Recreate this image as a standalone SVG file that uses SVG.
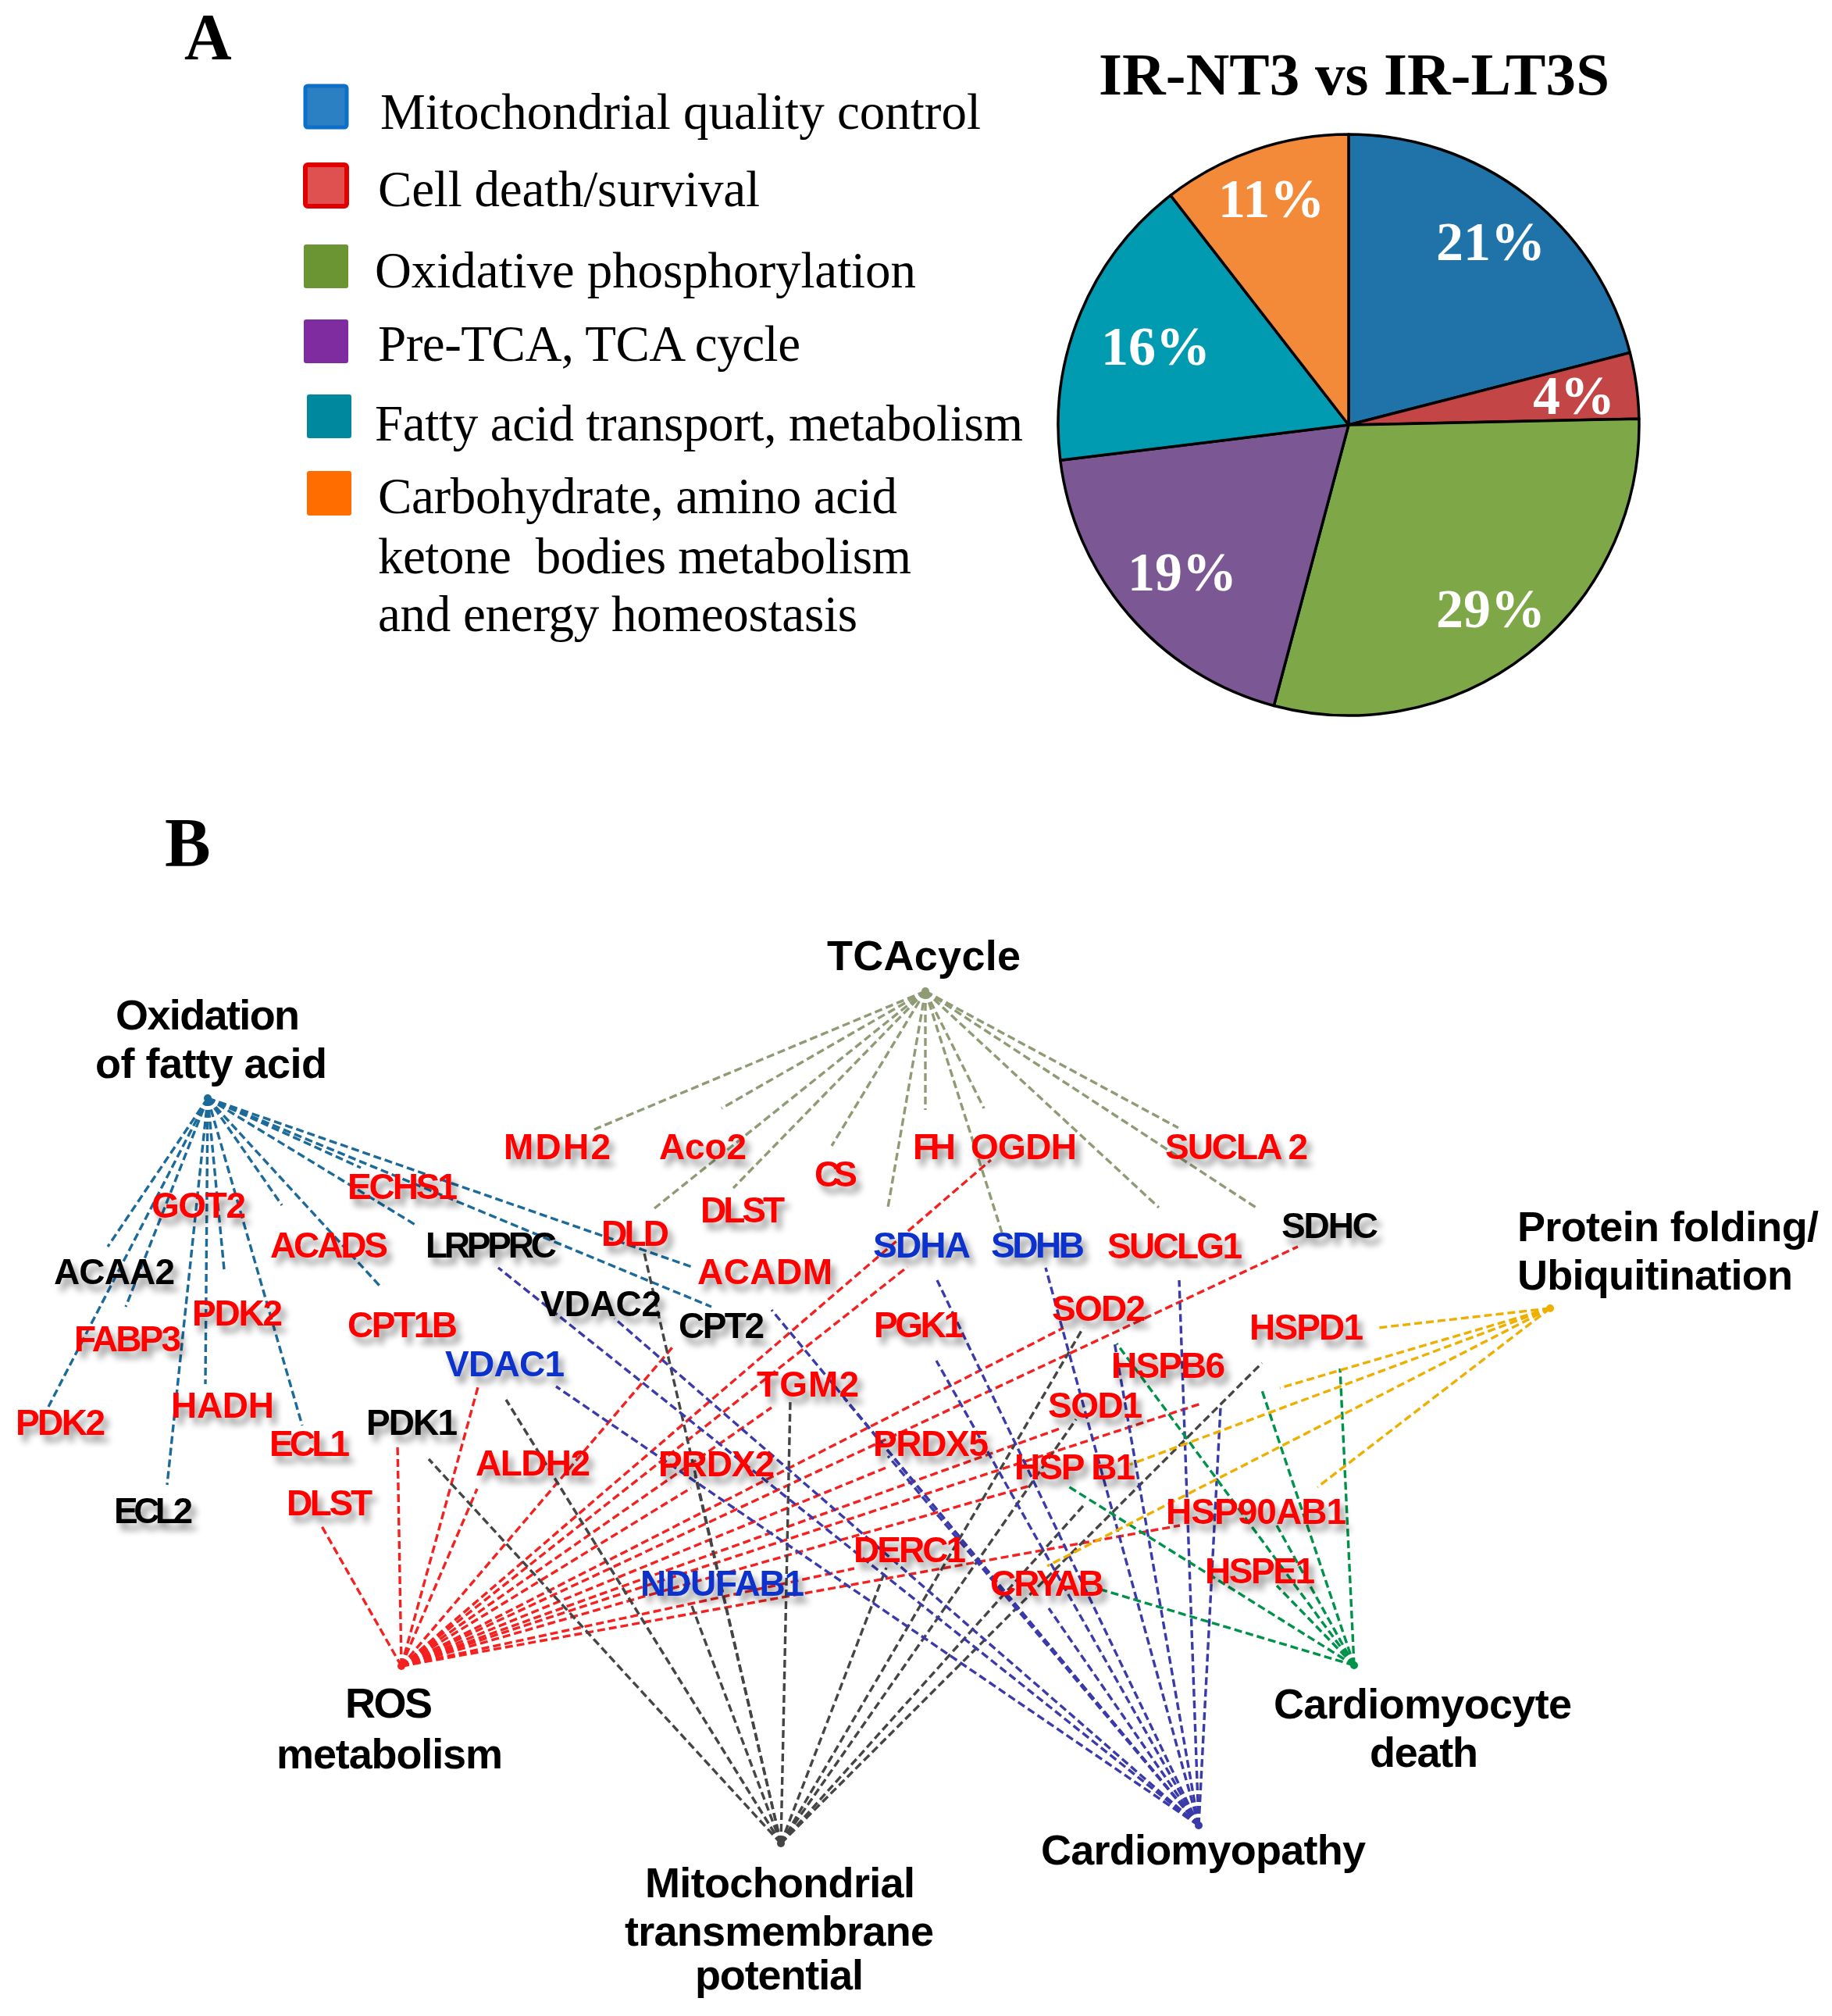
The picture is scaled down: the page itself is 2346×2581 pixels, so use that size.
<svg xmlns="http://www.w3.org/2000/svg" width="2346" height="2581" viewBox="0 0 2346 2581">
<defs>
<style>
.panel{font-family:"Liberation Serif","Times New Roman",serif;font-weight:bold;font-size:88px;fill:#000}
.leg{font-family:"Liberation Serif","Times New Roman",serif;font-size:65px;fill:#000}
.title{font-family:"Liberation Serif","Times New Roman",serif;font-weight:bold;font-size:77px;fill:#000}
.pct{font-family:"Liberation Serif","Times New Roman",serif;font-weight:bold;font-size:70px;fill:#fff}
.slice{stroke:#000;stroke-width:3.5;stroke-linejoin:round}
.cat{font-family:"Liberation Sans",Arial,sans-serif;font-weight:bold;font-size:54px;fill:#000}
.g{font-family:"Liberation Sans",Arial,sans-serif;font-weight:bold;font-size:46px;filter:url(#sh)}
.r{fill:#ff0000}.b{fill:#0a32cc}.k{fill:#000}
.e{fill:none;stroke-width:3.4;stroke-dasharray:10 5}
.fa{stroke:#1c6a9a}.tca{stroke:#8f9b74}.ros{stroke:#f52020}.mito{stroke:#454545}.cmp{stroke:#3a3aaa}.cd{stroke:#00924a}.pf{stroke:#eeb000}
</style>
<filter id="sh" x="-10%" y="-30%" width="130%" height="190%">
<feGaussianBlur in="SourceAlpha" stdDeviation="4"/>
<feOffset dx="6" dy="9"/>
<feComponentTransfer><feFuncA type="linear" slope="0.4"/></feComponentTransfer>
<feMerge><feMergeNode/><feMergeNode in="SourceGraphic"/></feMerge>
</filter>
</defs>
<rect width="2346" height="2581" fill="#fff"/>

<!-- Panel A -->
<text class="panel" x="236" y="76" style="font-size:84px">A</text>
<g id="legend">
<g id="leg-mqc"><rect x="391" y="110" width="53" height="53" rx="3" fill="#2b80c4" stroke="#0c6fc8" stroke-width="5"/><text class="leg" x="487" y="165" textLength="769">Mitochondrial quality control</text></g>
<g id="leg-cds"><rect x="391" y="211" width="53" height="53" rx="3" fill="#df5050" stroke="#e00000" stroke-width="6"/><text class="leg" x="484" y="264" textLength="489">Cell death/survival</text></g>
<g id="leg-ox"><rect x="389" y="313" width="57" height="56" rx="3" fill="#6b9532"/><text class="leg" x="480" y="368" textLength="693">Oxidative phosphorylation</text></g>
<g id="leg-tca"><rect x="389" y="409" width="57" height="56" rx="3" fill="#7f2ca0"/><text class="leg" x="484" y="462" textLength="541">Pre-TCA,  TCA cycle</text></g>
<g id="leg-fa"><rect x="393" y="505" width="57" height="56" rx="3" fill="#00889f"/><text class="leg" x="480" y="564" textLength="830">Fatty acid transport, metabolism</text></g>
<g id="leg-carb"><rect x="393" y="603" width="57" height="57" rx="3" fill="#ff6d00"/>
<text class="leg" x="484" y="657" textLength="665">Carbohydrate, amino acid</text>
<text class="leg" x="484" y="734" textLength="683" xml:space="preserve">ketone  bodies metabolism</text>
<text class="leg" x="484" y="808" textLength="614">and energy homeostasis</text></g>
</g>

<g id="pie">
<text class="title" x="1407" y="121" textLength="654">IR-NT3 vs IR-LT3S</text>
<path id="s-blue" class="slice" fill="#1f73a9" d="M1727,544 L1727,172 A372,372 0 0 1 2087.3,451.5 Z"/>
<path id="s-red" class="slice" fill="#c34545" d="M1727,544 L2087.3,451.5 A372,372 0 0 1 2098.9,536.2 Z"/>
<path id="s-green" class="slice" fill="#7ea748" d="M1727,544 L2098.9,536.2 A372,372 0 0 1 1631.3,903.5 Z"/>
<path id="s-purple" class="slice" fill="#7b5893" d="M1727,544 L1631.3,903.5 A372,372 0 0 1 1357.8,589.3 Z"/>
<path id="s-teal" class="slice" fill="#009bb0" d="M1727,544 L1357.8,589.3 A372,372 0 0 1 1499,250.1 Z"/>
<path id="s-orange" class="slice" fill="#f28a3a" d="M1727,544 L1499,250.1 A372,372 0 0 1 1727,172 Z"/>
<text class="pct" x="1839" y="333">21%</text>
<text class="pct" x="1963" y="530">4%</text>
<text class="pct" x="1839" y="803">29%</text>
<text class="pct" x="1444" y="756">19%</text>
<text class="pct" x="1410" y="467">16%</text>
<text class="pct" x="1560" y="278">11%</text>
</g>

<!-- Panel B -->
<text class="panel" x="211" y="1108">B</text>

<g id="connectors">
<g id="e-fa">
<path class="e fa" d="M266,1406L138,1596"/>
<path class="e fa" d="M266,1406L62,1801"/>
<path class="e fa" d="M266,1406L161,1673"/>
<path class="e fa" d="M266,1406L214,1901"/>
<path class="e fa" d="M266,1406L263,1772"/>
<path class="e fa" d="M266,1406L287,1625"/>
<path class="e fa" d="M266,1406L387,1825"/>
<path class="e fa" d="M266,1406L361,1543"/>
<path class="e fa" d="M266,1406L487,1647"/>
<path class="e fa" d="M266,1406L462,1495"/>
<path class="e fa" d="M266,1406L535,1570"/>
<path class="e fa" d="M266,1406L886,1622"/>
<path class="e fa" d="M266,1406L911,1673"/>
<circle cx="266" cy="1406" r="5" fill="#1c6a9a"/>
</g>
<g id="e-tca">
<path class="e tca" d="M1185,1269L761,1446"/>
<path class="e tca" d="M1185,1269L924,1419"/>
<path class="e tca" d="M1185,1269L838,1547"/>
<path class="e tca" d="M1185,1269L939,1521"/>
<path class="e tca" d="M1185,1269L1065,1467"/>
<path class="e tca" d="M1185,1269L1137,1546"/>
<path class="e tca" d="M1185,1269L1185,1421"/>
<path class="e tca" d="M1185,1269L1260,1419"/>
<path class="e tca" d="M1185,1269L1283,1578"/>
<path class="e tca" d="M1185,1269L1484,1546"/>
<path class="e tca" d="M1185,1269L1509,1444"/>
<path class="e tca" d="M1185,1269L1610,1547"/>
<circle cx="1185" cy="1269" r="5" fill="#8f9b74"/>
</g>
<g id="e-ros">
<path class="e ros" d="M514,2133L412,1954"/>
<path class="e ros" d="M514,2133L509,1848"/>
<path class="e ros" d="M514,2133L612,1776"/>
<path class="e ros" d="M514,2133L611,1906"/>
<path class="e ros" d="M514,2133L861,1725"/>
<path class="e ros" d="M514,2133L988,1802"/>
<path class="e ros" d="M514,2133L885,1905"/>
<path class="e ros" d="M514,2133L1269,1485"/>
<path class="e ros" d="M514,2133L1162,1622"/>
<path class="e ros" d="M514,2133L1137,1878"/>
<path class="e ros" d="M514,2133L1662,1596"/>
<path class="e ros" d="M514,2133L1362,1700"/>
<path class="e ros" d="M514,2133L1538,1797"/>
<path class="e ros" d="M514,2133L1360,1828"/>
<path class="e ros" d="M514,2133L1316,1903"/>
<path class="e ros" d="M514,2133L1511,1953"/>
<path class="e ros" d="M514,2133L1094,2008"/>
<circle cx="514" cy="2133" r="5" fill="#f52020"/>
</g>
<g id="e-mito">
<path class="e mito" d="M1000,2360L549,1868"/>
<path class="e mito" d="M1000,2360L648,1792"/>
<path class="e mito" d="M1000,2360L824,1600"/>
<path class="e mito" d="M1000,2360L890,1888"/>
<path class="e mito" d="M1000,2360L886,2056"/>
<path class="e mito" d="M1000,2360L1012,1793"/>
<path class="e mito" d="M1000,2360L1135,2007"/>
<path class="e mito" d="M1000,2360L1387,1700"/>
<path class="e mito" d="M1000,2360L1378,1817"/>
<path class="e mito" d="M1000,2360L1387,1928"/>
<path class="e mito" d="M1000,2360L1616,1745"/>
<circle cx="1000" cy="2360" r="5" fill="#454545"/>
</g>
<g id="e-cmp">
<path class="e cmp" d="M1535,2337L638,1623"/>
<path class="e cmp" d="M1535,2337L787,1688"/>
<path class="e cmp" d="M1535,2337L712,1775"/>
<path class="e cmp" d="M1535,2337L988,1677"/>
<path class="e cmp" d="M1535,2337L1200,1639"/>
<path class="e cmp" d="M1535,2337L1199,1742"/>
<path class="e cmp" d="M1535,2337L1081,1790"/>
<path class="e cmp" d="M1535,2337L1137,1864"/>
<path class="e cmp" d="M1535,2337L1339,1623"/>
<path class="e cmp" d="M1535,2337L1427,1718"/>
<path class="e cmp" d="M1535,2337L1510,1639"/>
<path class="e cmp" d="M1535,2337L1563,1802"/>
<path class="e cmp" d="M1535,2337L1343,2059"/>
<circle cx="1535" cy="2337" r="5" fill="#3a3aaa"/>
</g>
<g id="e-cd">
<path class="e cd" d="M1734,2132L1430,1720"/>
<path class="e cd" d="M1734,2132L1368,1903"/>
<path class="e cd" d="M1734,2132L1403,2033"/>
<path class="e cd" d="M1734,2132L1615,1777"/>
<path class="e cd" d="M1734,2132L1716,1752"/>
<path class="e cd" d="M1734,2132L1635,1953"/>
<path class="e cd" d="M1734,2132L1635,2030"/>
<circle cx="1734" cy="2132" r="5" fill="#00924a"/>
</g>
<g id="e-pf">
<path class="e pf" d="M1985,1675L1764,1700"/>
<path class="e pf" d="M1985,1675L1639,1777"/>
<path class="e pf" d="M1985,1675L1447,1875"/>
<path class="e pf" d="M1985,1675L1687,1904"/>
<path class="e pf" d="M1985,1675L1341,2005"/>
<circle cx="1985" cy="1675" r="5" fill="#eeb000"/>
</g>
</g>

<!-- category nodes -->
<g id="n-tca"><text class="cat" x="1059" y="1242" textLength="248">TCAcycle</text></g>
<g id="n-fa"><text class="cat" x="148" y="1318" textLength="236">Oxidation</text><text class="cat" x="122" y="1380" textLength="297">of fatty acid</text></g>
<g id="n-pf"><text class="cat" x="1943" y="1589" textLength="386">Protein folding/</text><text class="cat" x="1943" y="1651" textLength="353">Ubiquitination</text></g>
<g id="n-ros"><text class="cat" x="442" y="2199" textLength="112">ROS</text><text class="cat" x="354" y="2264" textLength="290">metabolism</text></g>
<g id="n-mito"><text class="cat" x="826" y="2429" textLength="346">Mitochondrial</text><text class="cat" x="800" y="2491" textLength="396">transmembrane</text><text class="cat" x="890" y="2547" textLength="216">potential</text></g>
<g id="n-cmp"><text class="cat" x="1333" y="2387" textLength="416">Cardiomyopathy</text></g>
<g id="n-cd"><text class="cat" x="1631" y="2200" textLength="382">Cardiomyocyte</text><text class="cat" x="1754" y="2262" textLength="139">death</text></g>

<!-- gene nodes -->
<g id="n-MDH2"><text class="g r" x="645" y="1484" textLength="137">MDH2</text></g>
<g id="n-Aco2"><text class="g r" x="844" y="1484" textLength="112">Aco2</text></g>
<g id="n-CS"><text class="g r" x="1043" y="1519" textLength="55">CS</text></g>
<g id="n-FH"><text class="g r" x="1169" y="1484" textLength="55">FH</text></g>
<g id="n-OGDH"><text class="g r" x="1243" y="1484" textLength="136">OGDH</text></g>
<g id="n-SUCLA2"><text class="g r" x="1492" y="1484" textLength="183">SUCLA 2</text></g>
<g id="n-ECHS1"><text class="g r" x="445" y="1535" textLength="141">ECHS1</text></g>
<g id="n-GOT2"><text class="g r" x="194" y="1559" textLength="121">GOT2</text></g>
<g id="n-DLD"><text class="g r" x="770" y="1595" textLength="87">DLD</text></g>
<g id="n-DLST-a"><text class="g r" x="897" y="1565" textLength="108">DLST</text></g>
<g id="n-ACADS"><text class="g r" x="346" y="1610" textLength="151">ACADS</text></g>
<g id="n-ACADM"><text class="g r" x="893" y="1644" textLength="173">ACADM</text></g>
<g id="n-SUCLG1"><text class="g r" x="1418" y="1611" textLength="173">SUCLG1</text></g>
<g id="n-SOD2"><text class="g r" x="1347" y="1691" textLength="120">SOD2</text></g>
<g id="n-HSPD1"><text class="g r" x="1600" y="1715" textLength="146">HSPD1</text></g>
<g id="n-PGK1"><text class="g r" x="1119" y="1712" textLength="115">PGK1</text></g>
<g id="n-CPT1B"><text class="g r" x="445" y="1712" textLength="141">CPT1B</text></g>
<g id="n-PDK2-a"><text class="g r" x="246" y="1697" textLength="116">PDK2</text></g>
<g id="n-FABP3"><text class="g r" x="95" y="1730" textLength="137">FABP3</text></g>
<g id="n-PDK2-b"><text class="g r" x="20" y="1837" textLength="115">PDK2</text></g>
<g id="n-HADH"><text class="g r" x="219" y="1815" textLength="132">HADH</text></g>
<g id="n-ECL1"><text class="g r" x="345" y="1864" textLength="103">ECL1</text></g>
<g id="n-DLST-b"><text class="g r" x="367" y="1940" textLength="110">DLST</text></g>
<g id="n-ALDH2"><text class="g r" x="609" y="1889" textLength="147">ALDH2</text></g>
<g id="n-PRDX2"><text class="g r" x="843" y="1890" textLength="149">PRDX2</text></g>
<g id="n-TGM2"><text class="g r" x="969" y="1788" textLength="131">TGM2</text></g>
<g id="n-PRDX5"><text class="g r" x="1118" y="1864" textLength="148">PRDX5</text></g>
<g id="n-HSPB6"><text class="g r" x="1423" y="1764" textLength="146">HSPB6</text></g>
<g id="n-SOD1"><text class="g r" x="1342" y="1815" textLength="121">SOD1</text></g>
<g id="n-HSPB1"><text class="g r" x="1299" y="1894" textLength="155">HSP B1</text></g>
<g id="n-HSP90AB1"><text class="g r" x="1493" y="1951" textLength="231">HSP90AB1</text></g>
<g id="n-HSPE1"><text class="g r" x="1543" y="2027" textLength="141">HSPE1</text></g>
<g id="n-DERC1"><text class="g r" x="1093" y="2000" textLength="144">DERC1</text></g>
<g id="n-CRYAB"><text class="g r" x="1268" y="2043" textLength="146">CRYAB</text></g>
<g id="n-SDHA"><text class="g b" x="1118" y="1610" textLength="125">SDHA</text></g>
<g id="n-SDHB"><text class="g b" x="1269" y="1610" textLength="120">SDHB</text></g>
<g id="n-VDAC1"><text class="g b" x="570" y="1762" textLength="153">VDAC1</text></g>
<g id="n-NDUFAB1"><text class="g b" x="820" y="2043" textLength="210">NDUFAB1</text></g>
<g id="n-LRPPRC"><text class="g k" x="545" y="1610" textLength="168">LRPPRC</text></g>
<g id="n-ACAA2"><text class="g k" x="69" y="1644" textLength="155">ACAA2</text></g>
<g id="n-VDAC2"><text class="g k" x="692" y="1685" textLength="155">VDAC2</text></g>
<g id="n-CPT2"><text class="g k" x="869" y="1713" textLength="110">CPT2</text></g>
<g id="n-SDHC"><text class="g k" x="1641" y="1585" textLength="124">SDHC</text></g>
<g id="n-PDK1"><text class="g k" x="469" y="1837" textLength="117">PDK1</text></g>
<g id="n-ECL2"><text class="g k" x="146" y="1950" textLength="101">ECL2</text></g>
</svg>
